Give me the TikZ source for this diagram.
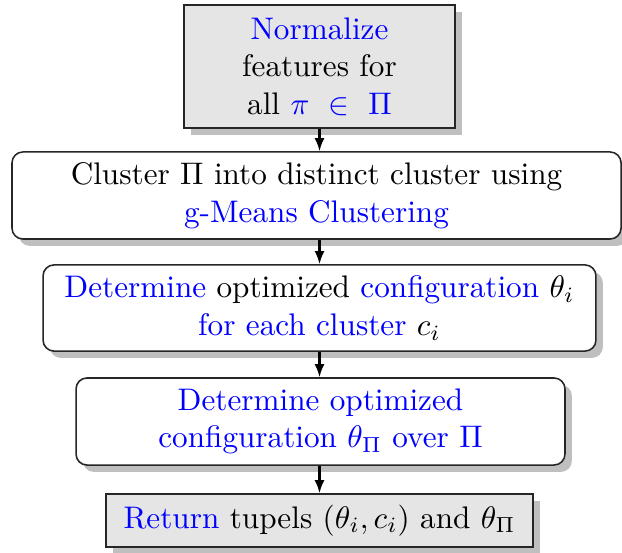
\documentclass[tikz,border=0pt]{standalone}
\usetikzlibrary{shadows,arrows.meta}
\begin{document}
\begin{tikzpicture}[x=0.3205pt,y=-0.3205pt,
  box/.style={draw=black!85, line width=0.5pt, align=center, inner sep=0pt,
    drop shadow={shadow xshift=2.2pt, shadow yshift=-2.2pt, fill=gray!50, opacity=1}},
  graybox/.style={box, fill=gray!20},
  roundbox/.style={box, fill=white, rounded corners=3.5pt},
  arr/.style={-{Latex[length=4.2pt,width=3.2pt]}, line width=0.65pt}]
\useasboundingbox (0,0) rectangle (622,552);

% process steps, top to bottom
\node[graybox, minimum width=86.9pt, minimum height=39.4pt] (norm) at (319.5,66.5)
  {\textcolor{blue}{Normalize}\\features for\\all {\color{blue}$\pi~\in~\Pi$}};
\node[roundbox, minimum width=195.2pt, minimum height=27.9pt] (cluster) at (316.5,195.5)
  {Cluster $\Pi$ into distinct cluster using\\\textcolor{blue}{g-Means Clustering}};
\node[roundbox, minimum width=177.2pt, minimum height=27.6pt] (percl) at (319.5,308)
  {\textcolor{blue}{Determine} optimized \textcolor{blue}{configuration} $\theta_i$\\\textcolor{blue}{for each cluster} $c_i$};
\node[roundbox, text=blue, minimum width=156.7pt, minimum height=27.9pt] (global) at (320.5,421.5)
  {Determine optimized\\configuration $\theta_\Pi$ over $\Pi$};
\node[graybox, minimum width=136.9pt, minimum height=17pt] (ret) at (319.5,520.5)
  {\textcolor{blue}{Return} tupels $(\theta_i, c_i)$ and $\theta_\Pi$};

% connectors
\draw[arr] (norm.south) -- (norm.south |- cluster.north);
\draw[arr] (percl.north |- cluster.south) -- (percl.north);
\draw[arr] (percl.south) -- (percl.south |- global.north);
\draw[arr] (ret.north |- global.south) -- (ret.north);
\end{tikzpicture}
\end{document}
